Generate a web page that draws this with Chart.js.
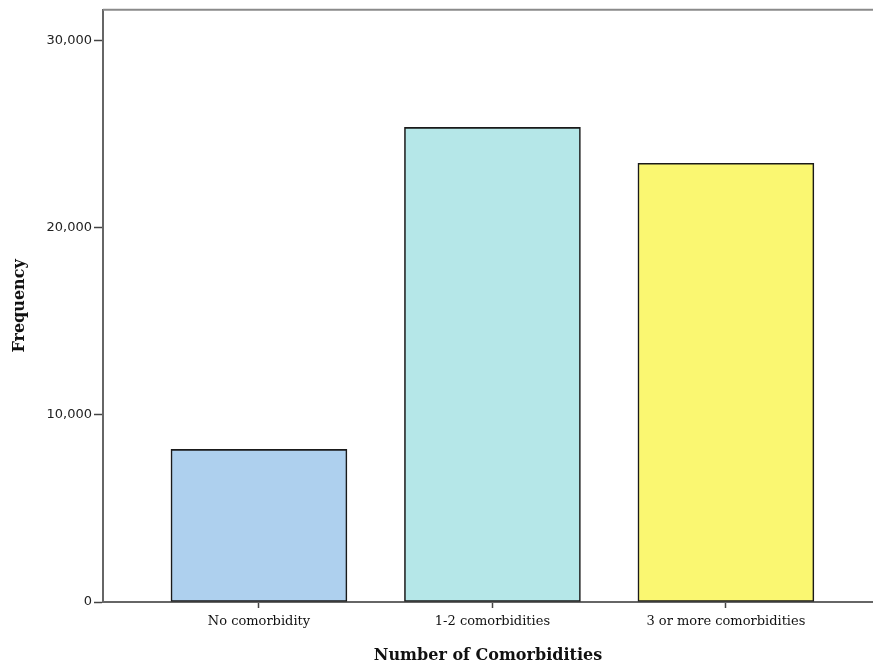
<!DOCTYPE html>
<html>
<head>
<meta charset="utf-8">
<script src="https://cdn.jsdelivr.net/npm/chart.js@4.4.1/dist/chart.umd.min.js"></script>
<style>
  html, body { margin: 0; padding: 0; background: #fff; }
  #wrap { width: 873px; height: 669px; }
</style>
</head>
<body>
<div id="wrap"><canvas id="chart"></canvas></div>
<script>
// data
const categories = ['No comorbidity', '1-2 comorbidities', '3 or more comorbidities'];
const frequencies = [8150, 25350, 23430];
const yTicks = [0, 10000, 20000, 30000];
const barColors = ['#aed0ee', '#b5e7e8', '#faf771'];

// top edge of the frame
const frameTop = {
    id: 'frameTop',
    afterDraw(chart) {
        const ctx = chart.ctx;
        const a = chart.chartArea;
        ctx.save();
        ctx.strokeStyle = '#8a8a8a';
        ctx.lineWidth = 2;
        ctx.beginPath();
        ctx.moveTo(a.left, a.top);
        ctx.lineTo(a.right, a.top);
        ctx.stroke();
        ctx.restore();
    }
};

const ctx = document.getElementById('chart');

new Chart(ctx, {
    type: 'bar',
    data: {
        datasets: [{
            label: 'Frequency',
            data: frequencies.map((v, i) => ({ x: i, y: v })),
            backgroundColor: barColors,
            borderColor: '#1a1a1a',
            borderWidth: 1.6,
            borderSkipped: false,
            barThickness: 176
        }]
    },
    plugins: [frameTop],
    options: {
        responsive: true,
        maintainAspectRatio: false,
        animation: false,
        layout: { padding: { top: 9, left: 0, right: 0, bottom: 0 } },
        plugins: {
            legend: { display: false },
            tooltip: { enabled: false }
        },
        scales: {
            x: {
                type: 'linear',
                offset: false,
                min: -0.668,
                max: 2.63,
                afterBuildTicks: (scale) => {
                    scale.ticks = categories.map((c, i) => ({ value: i }));
                },
                afterFit: (scale) => { scale.height = 67; },
                grid: {
                    offset: false,
                    drawOnChartArea: false,
                    color: '#444',
                    tickLength: 6,
                    tickWidth: 1.5
                },
                border: { color: '#666', width: 2 },
                ticks: {
                    autoSkip: false,
                    maxRotation: 0,
                    padding: 6,
                    color: '#111',
                    font: { family: 'DejaVu Serif', size: 13 },
                    callback: (v) => categories[v]
                },
                title: {
                    display: true,
                    text: 'Number of Comorbidities',
                    color: '#111',
                    font: { family: 'DejaVu Serif', size: 16, weight: 'bold' },
                    padding: { top: 0, bottom: 4 }
                }
            },
            y: {
                min: 0,
                max: 31630,
                afterBuildTicks: (scale) => {
                    scale.ticks = yTicks.map(v => ({ value: v }));
                },
                afterFit: (scale) => { scale.width = 103; },
                grid: {
                    drawOnChartArea: false,
                    color: '#444',
                    tickLength: 9,
                    tickWidth: 1.5
                },
                border: { color: '#666', width: 2 },
                ticks: {
                    padding: 2,
                    color: '#222',
                    font: { family: 'DejaVu Sans', size: 13 },
                    callback: (v) => v.toLocaleString('en-US')
                },
                title: {
                    display: true,
                    text: 'Frequency',
                    color: '#111',
                    font: { family: 'DejaVu Serif', size: 16, weight: 'bold' },
                    padding: { top: 10, bottom: 0 }
                }
            }
        }
    }
});
</script>
</body>
</html>
